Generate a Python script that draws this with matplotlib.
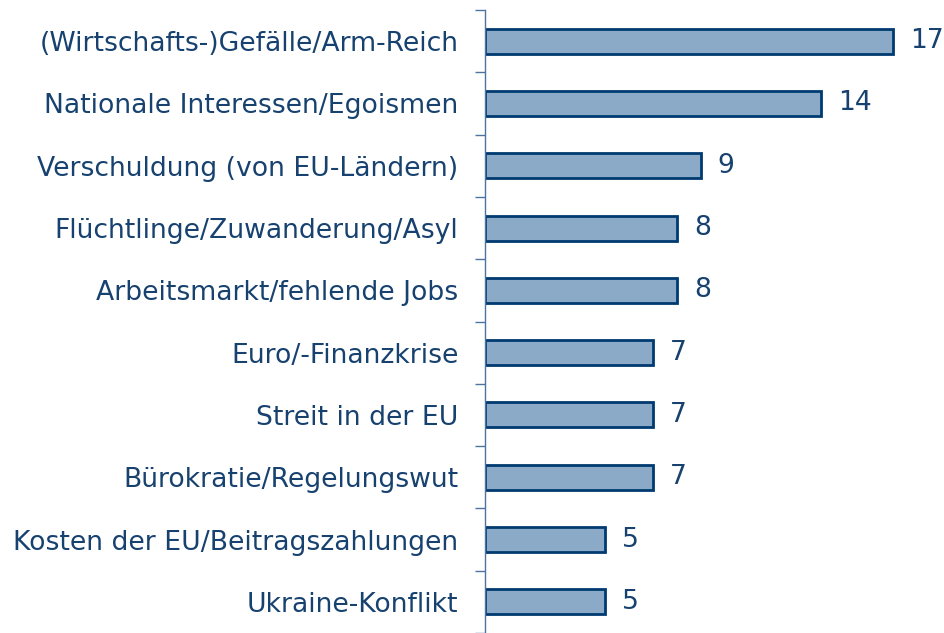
import matplotlib
matplotlib.use("Agg")
import matplotlib.pyplot as plt
import numpy as np

# Gründe / Probleme in der EU, Angaben in Prozent
labels = ["(Wirtschafts-)Gefälle/Arm-Reich",
          "Nationale Interessen/Egoismen",
          "Verschuldung (von EU-Ländern)",
          "Flüchtlinge/Zuwanderung/Asyl",
          "Arbeitsmarkt/fehlende Jobs",
          "Euro/-Finanzkrise",
          "Streit in der EU",
          "Bürokratie/Regelungswut",
          "Kosten der EU/Beitragszahlungen",
          "Ukraine-Konflikt"]
values = [17, 14, 9, 8, 8, 7, 7, 7, 5, 5]

text_col = "#17416f"
fill_col = "#8aaac8"
edge_col = "#003a70"
axis_col = "#4d73a0"
fs = 19.2

fig = plt.figure(figsize=(9.45, 6.33), dpi=100)
ax = fig.add_axes([485/945, 0, 460/945, 1 - 10/633])

y = np.arange(len(labels))
ax.barh(y, values, height=0.4, color=fill_col, edgecolor=edge_col, linewidth=2)

for yi, v in zip(y, values):
    ax.text(v + 0.7, yi, str(v), va="center", ha="left", fontsize=fs, color=text_col)

ax.set_xlim(0, 460/24)
ax.set_ylim(len(labels) - 0.5, -0.5)

# Beschriftung in der Mitte, Striche zwischen den Kategorien
ax.set_yticks(y)
ax.set_yticklabels(labels, fontsize=fs, color=text_col)
ax.set_yticks(np.arange(len(labels) + 1) - 0.5, minor=True)
ax.tick_params(axis="y", which="major", length=0, pad=19)
ax.tick_params(axis="y", which="minor", length=7, width=1, color=axis_col)
ax.set_xticks([])

for s in ["top", "right", "bottom"]:
    ax.spines[s].set_visible(False)
ax.spines["left"].set_color(axis_col)
ax.spines["left"].set_linewidth(1)

fig.savefig("out.png", dpi=100)
